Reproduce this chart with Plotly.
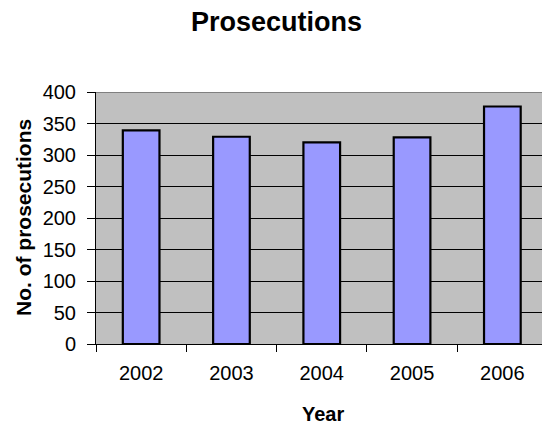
import plotly.graph_objects as go

years = ["2002", "2003", "2004", "2005", "2006"]
prosecutions = [339, 329, 320, 328, 377]
y_ticks = [0, 50, 100, 150, 200, 250, 300, 350, 400]

FONT = "Liberation Sans, Arial, sans-serif"

fig = go.Figure()
fig.add_trace(go.Bar(
    x=years, y=prosecutions, width=0.406,
    marker=dict(color="#9999FF", line=dict(color="#000000", width=2.2)),
    hoverinfo="x+y",
))

fig.update_layout(
    width=542, height=427,
    margin=dict(l=96, r=0, t=92, b=83, autoexpand=False),
    paper_bgcolor="white", plot_bgcolor="#C0C0C0",
    showlegend=False,
    font=dict(family=FONT, size=20, color="black"),
    xaxis=dict(
        type="category", range=[-0.5, 4.439],
        tickson="boundaries", ticks="outside", ticklen=7, tickcolor="black",
        tickwidth=1, showline=True, linecolor="black", linewidth=1,
        showgrid=False, ticklabelstandoff=11,
        tickfont=dict(family=FONT, size=20, color="black"),
    ),
    yaxis=dict(
        range=[0, 400], tickvals=y_ticks, ticks="outside", ticklen=8,
        tickcolor="black", tickwidth=1, showline=True, linecolor="black",
        linewidth=1, showgrid=True, gridcolor="black", gridwidth=1,
        zeroline=False, ticklabelstandoff=7,
        tickfont=dict(family=FONT, size=20, color="black"),
    ),
    shapes=[dict(type="line", xref="paper", yref="y", x0=0, x1=1, y0=400, y1=400,
                 line=dict(color="#808080", width=2), layer="above")],
    annotations=[
        dict(text="<b>Prosecutions</b>", xref="paper", yref="paper",
             x=(276.5 - 96) / 446, y=(344 - 21.5) / 252, xanchor="center", yanchor="middle",
             showarrow=False, font=dict(family=FONT, size=27, color="black")),
        dict(text="<b>Year</b>", xref="paper", yref="paper",
             x=(323 - 96) / 446, y=(344 - 414) / 252, xanchor="center", yanchor="middle",
             showarrow=False, font=dict(family=FONT, size=20, color="black")),
        dict(text="<b>No. of prosecutions</b>", xref="paper", yref="paper",
             x=(23 - 96) / 446, y=0.5, xanchor="center", yanchor="middle", textangle=-90,
             showarrow=False, font=dict(family=FONT, size=21, color="black")),
    ],
)

fig.write_html("out.html", config={"displayModeBar": False},
               post_script="document.body.style.margin='0';document.body.style.overflow='hidden';")
